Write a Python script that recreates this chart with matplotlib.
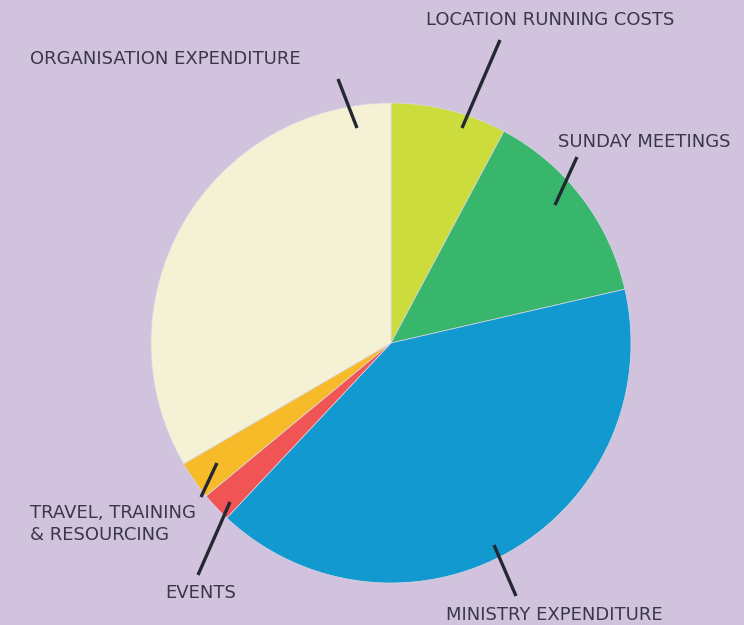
import matplotlib.pyplot as plt

# slice data, clockwise from 12 o'clock
labels = ["LOCATION RUNNING COSTS", "SUNDAY MEETINGS", "MINISTRY EXPENDITURE",
          "EVENTS", "TRAVEL, TRAINING\n& RESOURCING", "ORGANISATION EXPENDITURE"]
shares = [7.8, 13.6, 40.6, 2.0, 2.6, 33.4]
colors = ["#CCDC3C", "#38B66C", "#1299D0", "#F05454", "#F7BB2A", "#F5F1D5"]

bg = "#D1C3DE"
W, H = 744, 625

fig = plt.figure(figsize=(W / 100, H / 100), dpi=100, facecolor=bg)
ax = fig.add_axes([0, 0, 1, 1])
ax.set_facecolor(bg)

ax.pie(shares, colors=colors, startangle=90, counterclock=False,
       center=(391, H - 343), radius=240, frame=True,
       wedgeprops=dict(linewidth=0.5, edgecolor="#DCD6E4"))
ax.set_xlim(0, W)
ax.set_ylim(0, H)
ax.set_aspect("equal")
ax.axis("off")

# leader lines (pixel coords, top-left origin) and label anchors
leaders = [((500, 40), (462, 128)),
           ((577, 157), (555, 205)),
           ((494, 545), (516, 596)),
           ((230, 502), (198, 575)),
           ((217, 463), (201, 497)),
           ((338, 79), (357, 128))]
text_pos = [(426, 20), (558, 142), (446, 615), (165, 593), (30, 524), (30, 59)]

for (p0, p1) in leaders:
    ax.plot([p0[0], p1[0]], [H - p0[1], H - p1[1]], color="#232833",
            lw=2.4, solid_capstyle="butt")

for lab, (x, y) in zip(labels, text_pos):
    ax.text(x, H - y, lab, ha="left", va="center", fontsize=13,
            family="DejaVu Sans", color="#3A3848", linespacing=1.3)

fig.savefig("out.png", dpi=100, facecolor=bg)
